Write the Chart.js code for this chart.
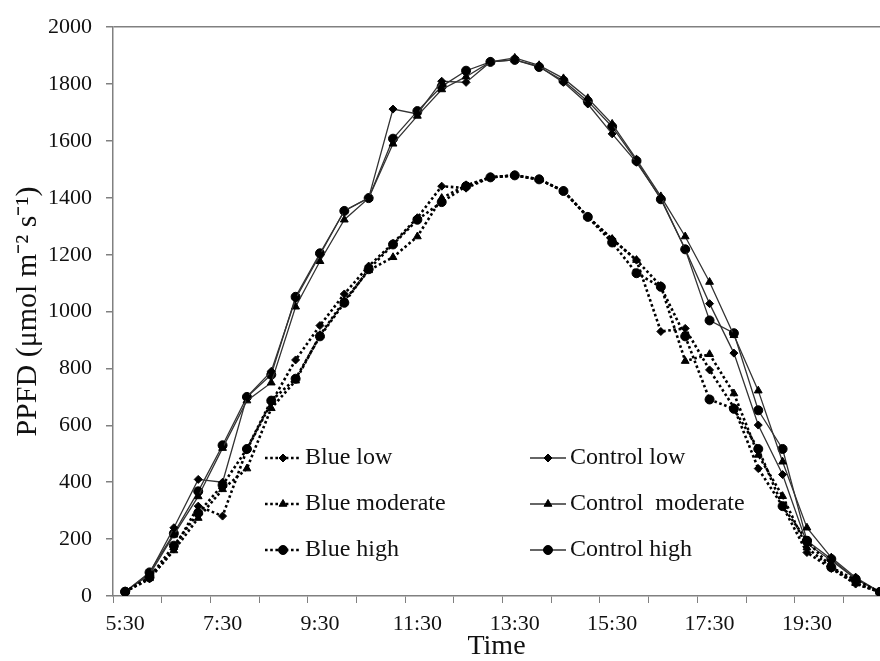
<!DOCTYPE html>
<html>
<head>
<meta charset="utf-8">
<script src="https://cdn.jsdelivr.net/npm/chart.js@4.4.0/dist/chart.umd.min.js"></script>
<style>
  body { margin: 0; background: #fff; overflow: hidden; }
</style>
</head>
<body>
<canvas id="chartPpfd" width="880" height="661"></canvas>
<script>
// horarios (a cada 30 min)
const horarios = ['5:30','6:00','6:30','7:00','7:30','8:00','8:30','9:00','9:30','10:00',
  '10:30','11:00','11:30','12:00','12:30','13:00','13:30','14:00','14:30','15:00',
  '15:30','16:00','16:30','17:00','17:30','18:00','18:30','19:00','19:30','20:00',
  '20:30','21:00'];

const blueLow = [15, 60, 165, 316, 281, 515, 680, 830, 951, 1062,
  1160, 1240, 1330, 1441, 1434, 1472, 1479, 1465, 1424, 1333,
  1255, 1181, 930, 941, 795, 663, 448, 316, 153, 97,
  42, 14];
const blueModerate = [15, 62, 160, 274, 375, 448, 660, 757, 917, 1038,
  1145, 1191, 1264, 1399, 1444, 1472, 1479, 1465, 1424, 1333,
  1255, 1181, 1090, 826, 850, 712, 496, 351, 170, 100,
  45, 14];
const blueHigh = [15, 66, 177, 292, 390, 517, 687, 764, 913, 1031,
  1149, 1236, 1323, 1385, 1441, 1472, 1479, 1465, 1424, 1333,
  1243, 1135, 1087, 913, 691, 658, 517, 316, 194, 101,
  56, 14];
const controlLow = [15, 80, 240, 410, 400, 700, 790, 1045, 1200, 1355,
  1400, 1712, 1695, 1810, 1806, 1878, 1885, 1862, 1806, 1730,
  1625, 1525, 1399, 1219, 1028, 854, 601, 427, 184, 125,
  60, 14];
const controlModerate = [15, 75, 215, 350, 520, 687, 750, 1017, 1177, 1323,
  1399, 1590, 1688, 1781, 1826, 1878, 1892, 1866, 1820, 1750,
  1660, 1535, 1405, 1264, 1104, 917, 722, 472, 240, 135,
  65, 14];
const controlHigh = [15, 83, 220, 368, 530, 700, 778, 1052, 1205, 1354,
  1399, 1608, 1705, 1792, 1847, 1878, 1885, 1860, 1812, 1740,
  1650, 1530, 1395, 1219, 969, 924, 653, 517, 194, 130,
  60, 14];

const yTicks = [0, 200, 400, 600, 800, 1000, 1200, 1400, 1600, 1800, 2000];

const serif = '"Liberation Serif", "Times New Roman", serif';
const cinza = '#808080';

function pontos(valores) {
  return valores.map((v, i) => ({ x: i, y: v }));
}

function serieBlue(label, valores, estilo, raio) {
  return {
    label: label,
    data: pontos(valores),
    borderColor: '#000',
    borderWidth: 2.6,
    borderDash: [2.6, 2.6],
    pointStyle: estilo,
    pointRadius: raio,
    pointBackgroundColor: '#000',
    pointBorderColor: '#000',
    pointBorderWidth: 1,
    tension: 0
  };
}

function serieControl(label, valores, estilo, raio) {
  return {
    label: label,
    data: pontos(valores),
    borderColor: '#333',
    borderWidth: 1.3,
    pointStyle: estilo,
    pointRadius: raio,
    pointBackgroundColor: '#000',
    pointBorderColor: '#000',
    pointBorderWidth: 1,
    tension: 0
  };
}

// legenda dentro da area do grafico, 2 colunas x 3 linhas
const legendaInterna = {
  id: 'legendaInterna',
  afterDatasetsDraw(chart) {
    const ctx = chart.ctx;
    chart.data.datasets.forEach((ds, i) => {
      const col = i < 3 ? 0 : 1;
      const row = i % 3;
      const x0 = col === 0 ? 265 : 530;
      const y = 458 + row * 46;
      ctx.save();
      ctx.strokeStyle = ds.borderColor;
      ctx.lineWidth = ds.borderWidth;
      ctx.setLineDash(ds.borderDash || []);
      ctx.beginPath();
      ctx.moveTo(x0, y);
      ctx.lineTo(x0 + 36, y);
      ctx.stroke();
      ctx.setLineDash([]);
      ctx.fillStyle = '#000';
      ctx.strokeStyle = '#000';
      ctx.lineWidth = 1;
      Chart.helpers.drawPoint(ctx, { pointStyle: ds.pointStyle, radius: ds.pointRadius, rotation: 0, borderWidth: 1 }, x0 + 18, y);
      ctx.fillStyle = '#111';
      ctx.font = '24px ' + serif;
      ctx.textBaseline = 'middle';
      ctx.textAlign = 'left';
      ctx.fillText(ds.label, x0 + 40, y);
      ctx.restore();
    });
  }
};

const config = {
  type: 'line',
  data: {
    datasets: [
      serieBlue('Blue low', blueLow, 'rectRot', 4),
      serieBlue('Blue moderate', blueModerate, 'triangle', 4.5),
      serieBlue('Blue high', blueHigh, 'circle', 4.5),
      serieControl('Control low', controlLow, 'rectRot', 4),
      serieControl('Control  moderate', controlModerate, 'triangle', 4.5),
      serieControl('Control high', controlHigh, 'circle', 4.5)
    ]
  },
  options: {
    responsive: false,
    animation: false,
    devicePixelRatio: 1,
    layout: { autoPadding: false, padding: { top: 20, right: 0, left: 0, bottom: 0 } },
    plugins: {
      legend: { display: false },
      tooltip: { enabled: false }
    },
    scales: {
      x: {
        type: 'linear',
        min: -0.5,
        max: 31.0,
        afterFit: (scale) => { scale.height = 65; },
        afterBuildTicks: (scale) => {
          const t = [];
          for (let k = 0; k < 16; k++) {
            t.push({ value: -0.5 + 2 * k });
            if (k % 2 === 0 && 2 * k <= 28) t.push({ value: 2 * k });
          }
          scale.ticks = t.filter(o => o.value <= 31.0);
        },
        ticks: {
          autoSkip: false,
          maxRotation: 0,
          padding: 8,
          color: '#111',
          font: { family: serif, size: 22 },
          callback: (value) => (Number.isInteger(value) && value % 4 === 0) ? horarios[value] : ''
        },
        grid: {
          drawOnChartArea: false,
          tickLength: 7,
          tickColor: (ctx) => (ctx.tick && Number.isInteger(ctx.tick.value)) ? 'rgba(0,0,0,0)' : cinza
        },
        border: { color: cinza, width: 1.5 },
        title: {
          display: true,
          text: 'Time',
          color: '#111',
          font: { family: serif, size: 28, lineHeight: 1 },
          padding: { top: 0, bottom: 0 }
        }
      },
      y: {
        min: 0,
        max: 2000,
        afterFit: (scale) => { scale.width = 113; },
        afterBuildTicks: (scale) => {
          scale.ticks = yTicks.map(v => ({ value: v }));
        },
        ticks: {
          padding: 14,
          color: '#111',
          font: { family: serif, size: 22 },
          callback: (value) => String(value)
        },
        grid: {
          tickLength: 7,
          tickColor: cinza,
          color: (ctx) => (ctx.tick && ctx.tick.value === 2000) ? cinza : 'rgba(0,0,0,0)',
          lineWidth: 1.5
        },
        border: { color: cinza, width: 1.5 },
        title: {
          display: true,
          text: 'PPFD (μmol m⁻² s⁻¹)',
          color: '#111',
          font: { family: serif, size: 30 },
          padding: { top: 10, bottom: 0 }
        }
      }
    }
  },
  plugins: [legendaInterna]
};

const chartPpfd = document.getElementById('chartPpfd');
let grafico = new Chart(chartPpfd, config);
</script>
</body>
</html>
